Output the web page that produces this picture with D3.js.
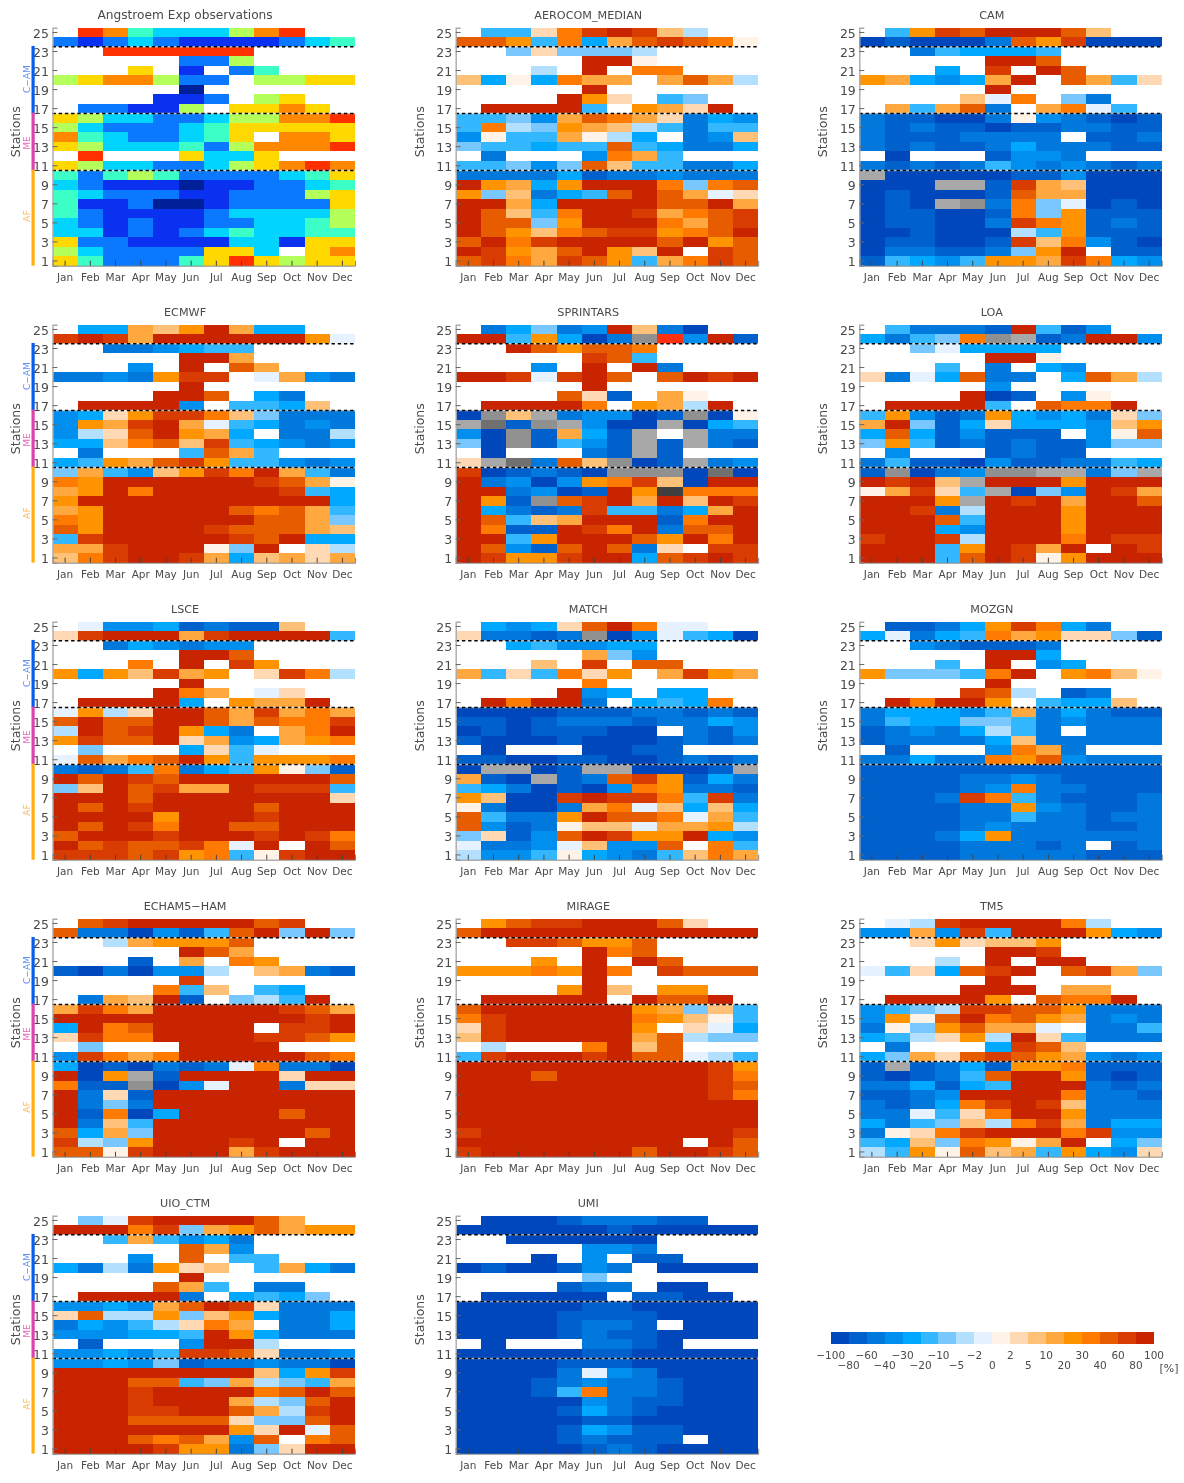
<!DOCTYPE html>
<html><head><meta charset="utf-8">
<script src="https://cdn.jsdelivr.net/npm/d3@7"></script>
<style>html,body{margin:0;padding:0;background:#fff}svg{display:block;filter:blur(0.45px)}text{font-family:"DejaVu Sans",sans-serif;fill:#4a4a4a}</style>
</head><body><div id="c"></div>
<script>
const months=["Jan","Feb","Mar","Apr","May","Jun","Jul","Aug","Sep","Oct","Nov","Dec"];
const stations=d3.range(25,0,-1);
const barTicks=[-100,-80,-60,-40,-30,-20,-10,-5,-2,0,2,5,10,20,30,40,60,80,100];
const barColors=["#0047bb","#0060cc","#0078dc","#008fee","#00a8ff","#33b8ff","#78c8ff","#b4e0ff","#e6f2ff","#fff2e6","#ffd9b4","#ffc078","#ffa840","#ff9400","#ff7a00","#e85c00","#d83c00","#c82400"];
const belowColors=["#404040","#707070","#909090","#a8a8a8"];
const overColor="#ff3010";
const codeValues={a:-90,b:-70,c:-50,d:-35,e:-25,f:-15,g:-7.5,h:-3.5,i:-1,j:1,k:3.5,l:7.5,m:15,n:25,o:35,p:50,q:70,r:90,w:-110,x:-130,y:-150,z:-190,u:110};
const obsCodeValues={A:0.1,B:0.3,C:0.5,D:0.7,E:0.9,F:1.1,G:1.3,H:1.5,I:1.7};
const obsTicks=[0.2,0.4,0.6,0.8,1.0,1.2,1.4,1.6];
const obsColors=["#00209a","#0a30f0","#0a78ff","#00d4ff","#3cffc8","#b4ff5a","#ffd800","#ff8800","#ff3000"];

const observations=[".IHEDDDFHI..","CBCDCBBBBCDE","..IIIIII....",".....CCF....","...G.B.CE...","FGHHFCC.FFGG",".....A......","....BBC.FG..",".CCBBF.GGHG.","GFDDCCDFFHHI","FDCCCDEGGGGG","HEDCCDEG.HHG","GFDDDECFHHHI",".I...GDDG...","GFDDCCDFGHIH","ECEFECCCCDEG","DCBBBABBCCDE","EDCCCBBCCCFG","EBBCAABCCCCG","ECBBBBCDDDDF","DCBCBBCCDDEF","DDBCBCDEDDEE","GCCBBBBDDBGG","FDCCCCGGD.GH","GECCCEGIGFGG"];
const aerocomMedian=[".ffkoqrqlh..","ppnfoempqpoj","..gkgggh....",".....rrj....","...h.r.oo...","lejeomm.mpmh",".....r......","....rnk.fg..",".rrrrf.nmkr.","ffgdmpomkced","fohgnmlhfcff","djffmjhe.cdl","gffeffpfecce",".c...domf...","ffgdgplffcce","ccccebccdccc","rnmenrrrogop","nglcefprpmik","rrmerrrrpprm","rplforrqmopq","rppgnrrrompq","rpnlopqqnopr","proqrrrrprnp","rqnmprnlr.qp","pqomqpnfmoqp"];
const cam=[".fnqprrrpl..","abaaacpnqaaa","..cfeeef....",".....rrp....","...e.q.rp...","nmedemr.pmfk",".....r......","....lio.gc..",".mfmpc.moif.","cbbaacjdcbab","cbcbbabbccbb","cbbbcccc.bbc","cbcbbcecccbb",".a...bddc...","cbcbcfdcdcbc","waaaaabbdaaa","aaawwbqmlaaa","abaaabpmmaaa","abawxcogiaba","abbaabognbbb","abbaacqonbcb","aabaaahfnbbb","abbaabqlodba","accbbcgnr.bb","bfedfnnmqoed"];
const ecmwf=[".eemlnrmee..","qrqmrrrrrrni","..ccdeff....",".....rrm....","...d.r.pm...","ccdcnqq.imdc",".....r......","....rrp.ec..",".rrrrd.ffel.","deknqqolgccc","dnmqrmifecdc","dhkprnme.cch","eeloplqfedcd",".c...fpmf...","efnmpqnffdcd","gmfdlnqormfc","onrrrrrrqpmj","mnrorrrrrqfe","nrrrrrrrrrre","mnrrrrrpopmf","onrrrrrrppmg","pnrrrrqpppml","fqrrrrrqpree","mmqrrrjgr.kh","loqrrqmelmkm"];
const sprintars=[".cegcdrlca..","rrfneacxudrb","..rpnppo....",".....qpf....","...d.r.rc...","rrqiqrp.prqr",".....r......","....pkb.mj..",".rrrro.nmhr.","axlwcddabxaj","wybxwdaawaef","daxbmebw.wcc","gaxbfdbwbwcb",".a...cbwb...","kwycplxabwcd","qabcbaxxxaya","rcdadnoqlarr","rrcdabrnzooo","rnbxpqrmrlrq","recbcqffcemr","rpflmrrrborr","robbrqorcppr","rrfnrrrpnror","rpdbprpck.qq","rqnnqrrepqrq"];
const loa=[".fcccbrfbd..","ecfgoxwbcrrd","..gieeee....",".....rrj....","...f.c.ed...","kciepcc.epmh",".....d......","....rab.dj..",".rrrrf.poor.","fndbcnedeckg","mrgbekeeedln","epebdbbb.djp","gnfbcbcbbdgg",".d...bcbb...","cfbbadbbccfe","bxacdxxwwcgw","rqrlwrrrnrrr","jmqkfwagdrqm","rrrnwrqrmrrp","rrqchrrrnrrr","rrrpfrrrnrrr","rrredrrrnrrr","qrrqhrrrorqq","rrrfnrqmr.rq","rrrfprqjnrrr"];
const lsce=[".iddebcbbl..","kqrrrmqrrrrf","..cedcdd....",".....rrp....","...o.r.qn...","nenlqmn.kqoh",".....r......","....rom.ik..",".rrrre.nmmr.","inhkrrpmqmom","prpprrpmpooq","hrpqrnec.mor","nqpprkmdemno",".g...ekfi...","ipmoprnfnnno","cbcfocefnjgb","rprqprrrrrrp","glrpqmmrqqqf","rrrprrrrrrrk","rprqrrrrprrr","rrrrnrrrqrrr","rprqorrpprrr","prrrqrrrqrqo","rpqppqoir.rp","qqqpqnofjqrr"];
const match=[".edekproii..","kccbcxadifea","..efddee....",".....mgd....","...l.q.pp...","mfkfokn.mqnm",".....o......","....rde.ee..",".rorrc.efeo.","aaaabbbccbcb","bbabcccbcced","ababbbaa.cbd","baaabaaabcbc",".a...aabb...","bbaabbaabcbc","awwabwwaaabw","mbawbcpqnbec","fecabadonccb","nlaaqrqqofqc","jcaacmoilele","pfccnrppoimf","pdbcjllimmnh","gkbdprqnnred","iccdilddp.of","hddfjedcflom"];
const mozgn=[".bbcenqoec..","eicefomnkkgb","..dcbbbc....",".....rre....","...f.r.de...","ngggfor.nolj",".....r......","....qph.bc..",".rorrn.feel.","ceeedfmcecbb","cfeeggfcdccc","bcdcehfc.ccc","bccccelccccc",".b...domc...","ccecconpdccc","bbbbbbbbbbbb","bbbbccdcbbbb","bbbbcdoccbbb","bbbcqofcbbbc","bbbbccndcbbc","bbbbccfccbcc","bbbbcdcccbbc","bbbcencccccc","bbbbcccbc.bc","bbbbcccccbbb"];
const echam5=[".pqrrrrrpq..","pccadbfprgrg","..hmnnnp....",".....rpm....","...b.m.on...","bacaddh.lmcb",".....q......","....ofl.fe..",".cmlrb.ghfr.","mqomrrrrrqpm","rrrrrrrrrrqr","eroprrrr.qqr","kqoorrrrqqpn",".g...rrrr...","dqomorrrrrpo","eabacbciocca","ranwbrrrrkrr","obbxadirrckk","rckbrrrrrrrr","rcgcrrrrrrrr","rboaerrrrprr","rclfrrrrrrrr","pemgrrrrrrpr","qhgnrrrqr.rr","ppjqrrrmqrrr"];
const mirage=[".npqqrrrpk..","prrrrrrrrrrr","..qqpnnp....",".....rop....","...n.r.rp...","nnnonro.qppp",".....r......","....nrl.nn..",".rrrrr.rppr.","prrrrrrnmglf","oqrrrrronljf","kqrrrrrn.kie","lqrrrrrmphgg",".h...orlp...","fqrrrqrppihf","rrrrrrrrrrqn","rrrprrrrrrqo","rrrrrrrrrrqp","rrrrrrrrrrqo","rrrrrrrrrrrr","rrrrrrrrrrrr","rrrrrrrrrrrr","qrrrrrrrrrrq","rrrrrrrrr.rp","qrrrrrrprrqp"];
const tm5=[".ihqrrrroh..","ddmdqfrrrned","..knklln....",".....rrq....","...h.r.rr...","ifkepqr.pqmg",".....r......","....rrr.mm..",".rrrrn.poor.","dfghqqppnccc","dnjpropnmcdc","cjgnpmmi.ccf","efhknhrkfccc",".c...eqpl...","egmkpqpnmdcd","bwbcebnnobbb","babcfprrnbab","ccebefrrrcbc","bbcdrrrroccb","cbceoqrqlccc","ccifkorrnccc","ecfglhoqmcee","cjkoqrrroqdd","felgonjmr.eg","hfnjplmfnedk"];
const uioCtm=[".giqrrrrpm..","rrroqgmnpmnn","..fmfdec....",".....pmd....","...d.p.ff...","echcnkl.fmec",".....r......","....pmf.cc..",".rrrrc.efeg.","ddedmprqkccc","kphhnglnecce","cedfhkom.cce","dddeefrneccc",".b...drrh...","ddedfqqpkccd","ddedgbccdcca","rrrrrrrrlenq","rrrppfgmhgfm","rrrqrrrroprp","rrrqrrrmhgpr","rrrqqrrpmhqr","rrrppppkggpr","rrrrrrrnkrip","rrrpopmdp.op","rrrrqnncgkrr"];
const umi=[".aaabcccbb..","aaaaaabaaaaa","..aaaaaa....",".....ddc....","...a.d.bb...","abaabdc.aaaa",".....g......","....bcc.aa..",".aaaaa.bbaa.","aaaaabbaaaaa","aaaabbbbaaaa","aaaabccb.aaa","aaaabcbbaaaa",".a...ccba...","aaaaabbaaaaa","aaaabbbaaaaa","aaaacidcaaaa","aaabcdccbaaa","aaabfoccbaaa","aaaaadcbbaaa","aaaabecbaaaa","aaaaabbaaaaa","aaaabedbbaaa","aaaabcbbb.aa","aaaaabcbaaaa"];

const panels=[
 {title:"Angstroem Exp observations",rows:observations,obs:true,side:true},
 {title:"AEROCOM_MEDIAN",rows:aerocomMedian},
 {title:"CAM",rows:cam},
 {title:"ECMWF",rows:ecmwf,side:true},
 {title:"SPRINTARS",rows:sprintars},
 {title:"LOA",rows:loa},
 {title:"LSCE",rows:lsce,side:true},
 {title:"MATCH",rows:match},
 {title:"MOZGN",rows:mozgn},
 {title:"ECHAM5\u2212HAM",rows:echam5,side:true},
 {title:"MIRAGE",rows:mirage},
 {title:"TM5",rows:tm5},
 {title:"UIO_CTM",rows:uioCtm,side:true},
 {title:"UMI",rows:umi}
];
const regions=[{name:"C\u2212AM",from:23,to:17,color:"#0a5cf0",text:"#5b8fff"},{name:"ME",from:16,to:11,color:"#dd44aa",text:"#ee66bb"},{name:"AF",from:10,to:1,color:"#ffae14",text:"#ffb84d"}];
const separators=[23,16,10];

const color=d3.scaleThreshold().domain([-180,-140,-120].concat(barTicks)).range(belowColors.concat(barColors,[overColor]));
const obsColor=d3.scaleThreshold().domain(obsTicks).range(obsColors);

const W=1184,H=1483,colX=[52.5,455.7,859.3],rowY=[27.7,324.7,621.7,918.7,1215.7],pw=302.5,ph=238;
const svg=d3.select("#c").append("svg").attr("width",W).attr("height",H);

panels.forEach((p,i)=>{
 const x0=colX[i%3],y0=rowY[Math.floor(i/3)];
 const x=d3.scaleBand().domain(months).range([x0,x0+pw]);
 const y=d3.scaleBand().domain(stations).range([y0,y0+ph]);
 const g=svg.append("g");
 const cells=[];
 p.rows.forEach((r,ri)=>[...r].forEach((ch,mi)=>{
  const v=(p.obs?obsCodeValues:codeValues)[ch];
  if(v!==undefined)cells.push({s:stations[ri],m:months[mi],v});
 }));
 g.selectAll("rect").data(cells).join("rect")
  .attr("x",d=>x(d.m)).attr("y",d=>y(d.s)).attr("width",x.bandwidth()).attr("height",y.bandwidth())
  .attr("shape-rendering","crispEdges")
  .attr("fill",d=>(p.obs?obsColor:color)(d.v));
 separators.forEach(s=>{
  const yy=y(s);
  g.append("line").attr("x1",x0).attr("x2",x0+pw).attr("y1",yy).attr("y2",yy).attr("stroke","#fff").attr("stroke-opacity",.6).attr("stroke-width",1.5);
  g.append("line").attr("x1",x0).attr("x2",x0+pw).attr("y1",yy).attr("y2",yy).attr("stroke","#000").attr("stroke-width",1.5).attr("stroke-dasharray","3.4,2.8");
 });
 const ay=d3.axisLeft(y).tickValues(stations.filter(s=>s%2==1)).tickSize(-5).tickPadding(8);
 const ga=g.append("g").attr("transform",`translate(${x0},0)`).call(ay);
 ga.select(".domain").attr("stroke","#aaa").attr("stroke-width",1.4);
 ga.selectAll(".tick line").attr("stroke","#666");
 ga.selectAll("text").attr("font-size",12.5).style("fill","#4a4a4a").attr("x",-3.5).attr("dy","0.42em");
 const ax=d3.axisBottom(x).tickSize(-5).tickPadding(0);
 const gb=g.append("g").attr("transform",`translate(0,${y0+ph})`).call(ax);
 gb.select(".domain").attr("stroke","#888");
 gb.selectAll(".tick line").attr("stroke","#444");
 gb.selectAll("text").attr("font-size",10.5).style("fill","#4a4a4a").attr("y",8);
 g.append("text").attr("x",x0+pw/2-18.7).attr("y",y0-12.7).attr("dy","0.35em").attr("text-anchor","middle").attr("font-size",p.obs?12.2:11.2).text(p.title);
 const sx=x0-(i%3==0?37:(i%3==1?35.7:36.6));
 g.append("text").attr("transform",`translate(${sx},${y0+104}) rotate(-90)`).attr("dy","0.35em").attr("text-anchor","middle").attr("font-size",12.5).text("Stations");
 if(p.side){
  regions.forEach(r=>{
   const t=y(r.from),b=y(r.to)+y.bandwidth();
   g.append("rect").attr("x",x0-21).attr("y",t-0.8).attr("width",3.2).attr("height",b-t+0.8).attr("fill",r.color);
   g.append("text").attr("transform",`translate(${x0-25.5},${(t+b)/2+(r.name=="AF"?-2:(r.name=="ME"?1:-1))}) rotate(-90)`).attr("dy","0.35em").attr("text-anchor","middle").attr("font-size",9).style("fill",r.text).text(r.name);
  });
 }
});

const bx=d3.scaleLinear().domain([0,18]).range([830.7,1154]);
const cb=svg.append("g");
cb.selectAll("rect").data(barColors).join("rect").attr("x",(d,i)=>bx(i)).attr("y",1332).attr("width",bx(1)-bx(0)).attr("height",12.3).attr("shape-rendering","crispEdges").attr("fill",d=>d);
cb.selectAll("text.t").data(barTicks).join("text").attr("class","t")
 .attr("x",(d,i)=>bx(i)).attr("y",(d,i)=>i%2==0?1355.7:1365).attr("dy","0.35em").attr("text-anchor","middle").attr("font-size",10.5)
 .text(d=>d<0?"\u2212"+(-d):d);
cb.append("text").attr("x",1169).attr("y",1368).attr("dy","0.35em").attr("text-anchor","middle").attr("font-size",11).text("[%]");
</script></body></html>
